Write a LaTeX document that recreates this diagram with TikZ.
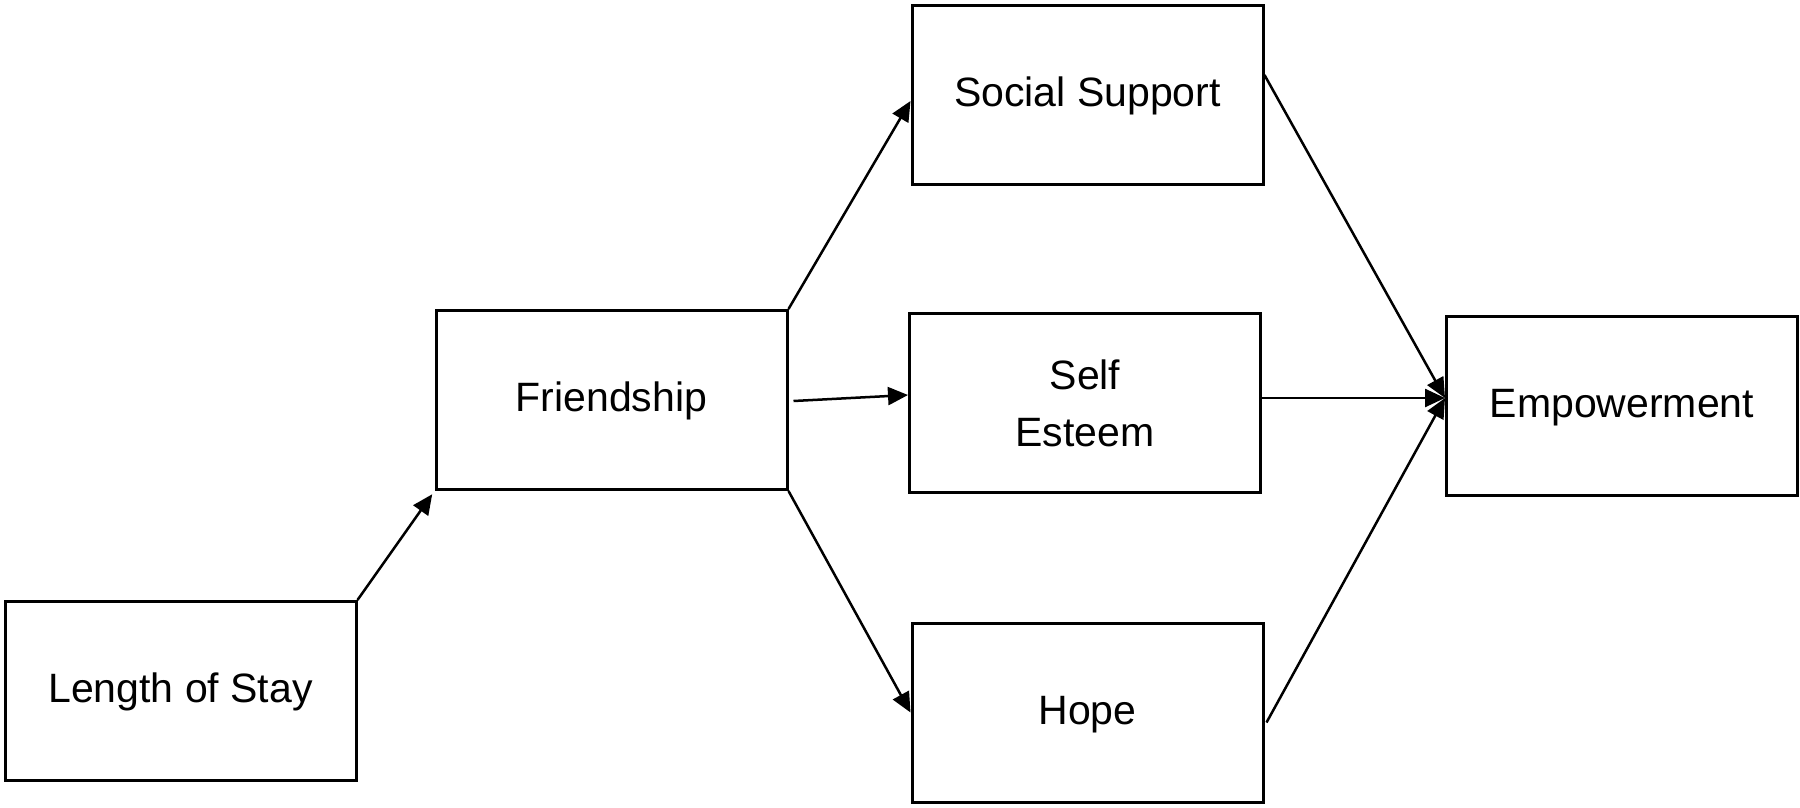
\documentclass[tikz,border=0pt]{standalone}
\usepackage{fontspec}
\setmainfont{Liberation Sans}
\usetikzlibrary{arrows.meta,calc}
\begin{document}
\begin{tikzpicture}[x=1pt,y=-1pt,
  boxbase/.style={draw=black,line width=3pt,minimum width=351pt,minimum height=179pt,inner sep=0pt,
    font=\fontsize{41}{57}\selectfont,align=center},
  box/.style={boxbase,text height=29pt,text depth=6pt},
  conn/.style={line width=2.5pt,-{Triangle[length=20pt,width=18pt]}}]
\useasboundingbox (0,0) rectangle (1800,807);
\node[box] (los) at (180.5,691) {Length of Stay};
\node[box] (fr) at (611.5,400) {Friendship};
\node[box] (ss) at (1087.5,95) {Social Support};
\node[boxbase] (se) at (1085,403) {Self\\Esteem};
\node[box] (hope) at (1087.5,712.5) {Hope};
\node[box] (emp) at (1622,406) {Empowerment};
\draw[conn,shorten >=4pt] (los.north east) -- (fr.south west);
\draw[conn] (fr.north east) -- ($(ss.west)+(0,6)$);
\draw[conn] ($(fr.east)+(5,1)$) -- ($(se.west)+(0,-8)$);
\draw[conn] (fr.south east) -- (hope.west);
\draw[conn] ($(ss.east)+(0,-20)$) -- ($(emp.west)+(0,-8)$);
\draw[conn] ($(se.east)+(0,-5)$) -- ($(emp.west)+(0,-8)$);
\draw[conn] ($(hope.east)+(2,10)$) -- ($(emp.west)+(0,-8)$);
\end{tikzpicture}
\end{document}
